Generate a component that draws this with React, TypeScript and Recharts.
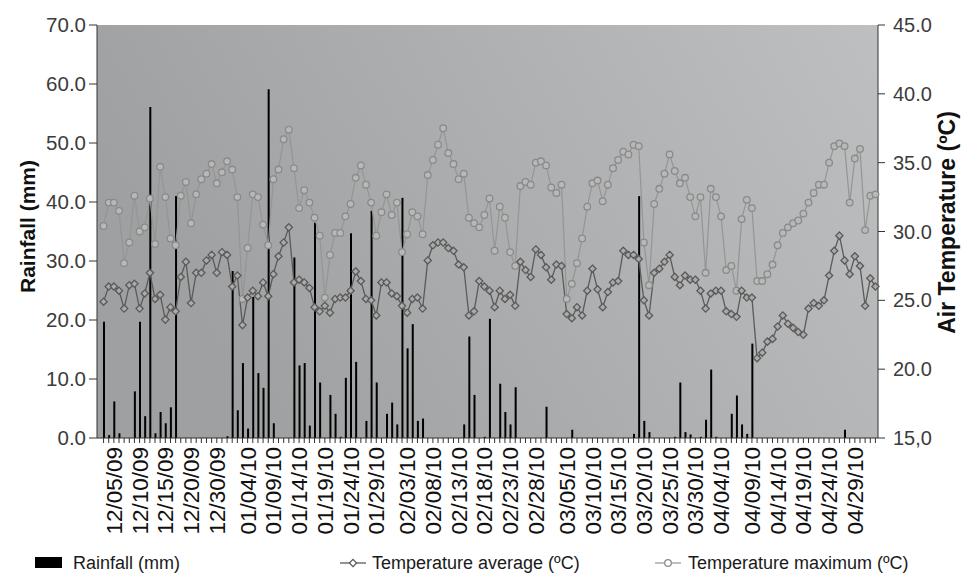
import React from "react";
import { ComposedChart, Bar, Line, XAxis, YAxis, CartesianGrid } from "recharts";

// daily values (151 days)
const rainfall = [
  19.7, 0.5, 6.2, 0.8, 0, 0, 7.9, 19.7, 3.7, 56.1, 0.8, 4.4, 2.5, 5.2, 41.0, 0, 0, 0, 0, 0,
  0, 0, 0, 0, 0.3, 28.3, 4.7, 12.7, 1.6, 23.9, 11.0, 8.5, 59.1, 2.5, 0, 0, 0, 30.6, 12.3, 12.7,
  2.1, 36.5, 9.4, 0, 7.3, 4.1, 0.2, 10.2, 34.7, 12.9, 0, 2.9, 38.5, 9.4, 0, 4.1, 6.0, 2.3, 40.7, 15.2,
  19.3, 2.9, 3.3, 0, 0, 0, 0, 0, 0, 0, 2.3, 17.2, 7.3, 0, 0.2, 20.2, 0, 9.2, 4.4, 2.3,
  8.6, 0, 0, 0, 0, 0, 5.3, 0, 0, 0, 0, 1.4, 0, 0, 0, 0, 0, 0, 0, 0,
  0, 0, 0, 0.7, 41.0, 2.9, 1.0, 0, 0, 0, 0, 0.2, 9.4, 1.0, 0.6, 0, 0.2, 3.1, 11.6, 0.2,
  0, 0, 4.1, 7.2, 2.3, 0.7, 16.0, 0, 0, 0, 0, 0, 0, 0, 0, 0, 0, 0, 0, 0,
  0, 0, 0, 0, 1.4, 0, 0, 0, 0, 0, 0,
];

const tempAvg = [
  24.9, 26.0, 26.0, 25.7, 24.4, 26.1, 26.2, 24.4, 25.5, 27.0, 25.1, 25.4, 23.6, 24.5, 24.2, 26.7, 27.8, 24.8, 27.0, 27.0,
  27.9, 28.3, 27.0, 28.5, 28.3, 26.0, 26.8, 23.2, 25.2, 25.7, 25.3, 26.3, 25.3, 26.9, 28.2, 29.2, 30.3, 26.3, 26.5, 26.3,
  25.9, 24.5, 24.2, 24.6, 24.1, 25.1, 25.2, 25.2, 25.7, 27.1, 26.4, 25.1, 25.0, 23.9, 26.3, 26.3, 25.5, 25.3, 24.6, 24.1,
  25.1, 25.2, 24.4, 27.9, 29.0, 29.2, 29.2, 28.8, 28.6, 27.6, 27.4, 23.9, 24.2, 26.4, 26.0, 25.7, 24.5, 25.7, 25.1, 25.4,
  24.6, 27.8, 27.2, 26.7, 28.7, 28.3, 27.4, 26.5, 27.6, 27.5, 24.0, 23.7, 24.5, 23.9, 25.7, 27.3, 25.8, 24.5, 25.6, 26.3,
  26.4, 28.6, 28.3, 28.3, 28.0, 25.0, 23.9, 27.0, 27.3, 27.8, 28.3, 26.7, 26.1, 26.8, 26.5, 26.5, 25.7, 24.4, 25.5, 25.7,
  25.7, 24.2, 24.0, 23.8, 25.7, 25.2, 25.2, 20.8, 21.2, 22.0, 22.2, 23.1, 23.9, 23.3, 23.0, 22.7, 22.5, 24.4, 24.8, 24.6,
  25.0, 26.8, 28.6, 29.7, 27.9, 26.9, 28.2, 27.5, 24.6, 26.6, 26.0,
];

const tempMax = [
  30.4, 32.1, 32.1, 31.5, 27.7, 29.2, 32.6, 30.0, 30.3, 32.4, 29.1, 34.7, 32.5, 29.5, 29.0, 32.6, 33.6, 30.6, 32.7, 33.8,
  34.2, 34.9, 33.5, 34.3, 35.1, 34.5, 32.5, 25.1, 28.8, 32.7, 32.5, 30.5, 29.0, 33.8, 34.5, 36.7, 37.4, 34.6, 31.7, 33.0,
  32.1, 31.0, 29.7, 25.2, 28.3, 29.9, 29.9, 31.1, 32.0, 33.9, 34.8, 33.4, 32.1, 29.7, 31.4, 32.7, 31.2, 32.1, 28.5, 29.8,
  31.4, 31.1, 29.8, 34.1, 35.2, 36.3, 37.5, 35.7, 34.9, 33.8, 34.2, 31.0, 30.6, 30.3, 31.2, 32.4, 28.6, 31.8, 31.0, 28.5,
  27.5, 33.3, 33.6, 33.4, 35.0, 35.1, 34.8, 33.2, 32.8, 33.4, 25.1, 26.2, 27.7, 29.5, 31.8, 33.5, 33.7, 32.2, 33.4, 34.6,
  35.2, 35.8, 35.6, 36.3, 36.2, 29.2, 26.1, 32.0, 33.1, 34.2, 35.6, 34.4, 33.5, 33.9, 32.5, 31.1, 32.5, 27.0, 33.1, 32.5,
  31.1, 27.2, 27.5, 25.7, 30.9, 32.3, 31.7, 26.4, 26.4, 26.9, 27.6, 29.0, 29.9, 30.3, 30.6, 30.8, 31.3, 32.1, 32.8, 33.4,
  33.4, 35.0, 36.2, 36.4, 36.2, 32.1, 35.3, 36.0, 30.1, 32.6, 32.7,
];

// date labels and the day (category index) each one sits under
const tickLabels = [
  "12/05/09", "12/10/09", "12/15/09", "12/20/09", "12/30/09", "01/04/10", "01/09/10", "01/14/10",
  "01/19/10", "01/24/10", "01/29/10", "02/03/10", "02/08/10", "02/13/10", "02/18/10", "02/23/10",
  "02/28/10", "03/05/10", "03/10/10", "03/15/10", "03/20/10", "03/25/10", "03/30/10", "04/04/10",
  "04/09/10", "04/14/10", "04/19/10", "04/24/10", "04/29/10",
];
const labelDays = [
  2, 7, 12, 17, 22, 28, 33, 38, 43, 48, 53, 59, 64, 69, 74, 79,
  84, 90, 95, 100, 105, 110, 115, 120, 126, 131, 136, 141, 146,
];

const rainTicks = [0, 10, 20, 30, 40, 50, 60, 70];
const tempTicks = [15, 20, 25, 30, 35, 40, 45];

const data = rainfall.map((r, i) => ({ day: i, rain: r, avg: tempAvg[i], max: tempMax[i] }));
const labelOf: Record<number, string> = {};
labelDays.forEach((d, i) => (labelOf[d] = tickLabels[i]));

const FONT = "'Liberation Sans', Arial, sans-serif";

const Diamond = (props: any) => {
  const { cx, cy, index } = props;
  if (cx == null || cy == null) return <g key={index} />;
  const s = 3.6;
  return (
    <path
      key={index}
      d={`M${cx},${cy - s}L${cx + s},${cy}L${cx},${cy + s}L${cx - s},${cy}Z`}
      fill="#ababab"
      stroke="#5a5a5a"
      strokeWidth={1.3}
    />
  );
};

const DateTick = (props: any) => {
  const { x, y, payload } = props;
  const text = labelOf[payload.value];
  if (!text) return <g />;
  return (
    <text
      x={x}
      y={y}
      transform={`rotate(-90 ${x} ${y})`}
      textAnchor="end"
      dy="0.36em"
      fontSize={22.5}
      fontFamily={FONT}
      fill="#111"
    >
      {text}
    </text>
  );
};

export default function App() {
  return (
    <div style={{ position: "relative", width: 962, height: 573, background: "#fff" }}>
      <style>{`body{margin:0}`}</style>
      <ComposedChart width={962} height={573} data={data} margin={{ top: 25, right: 34, bottom: 35, left: 37 }}>
        <defs>
          <linearGradient id="plotBg" x1="0" y1="0.3" x2="1" y2="0">
            <stop offset="0%" stopColor="#9fa0a1" />
            <stop offset="100%" stopColor="#bebfc0" />
          </linearGradient>
        </defs>
        <CartesianGrid fill="url(#plotBg)" horizontal={false} vertical={false} stroke="none" />
        <XAxis
          dataKey="day"
          type="category"
          interval={0}
          height={100}
          tickSize={5}
          tickMargin={4}
          padding={{ left: 4, right: 0 }}
          tick={<DateTick />}
          stroke="#333"
          tickLine={{ stroke: "#333" }}
        />
        <YAxis
          yAxisId="left"
          width={60}
          domain={[0, 70]}
          ticks={rainTicks}
          tickFormatter={(v) => v.toFixed(1)}
          tickSize={8}
          tickMargin={3}
          stroke="#333"
          tick={{ fontSize: 20.5, fill: "#3c3c3c", fontFamily: FONT }}
          label={{
            content: (p: any) => {
              const vb = p.viewBox;
              const cx = vb.x - 9;
              const cy = vb.y + vb.height / 2 - 5;
              return (
                <text x={cx} y={cy} transform={`rotate(-90 ${cx} ${cy})`} textAnchor="middle" dy="0.35em"
                  fontSize={21} fontWeight="bold" fontFamily={FONT} fill="#111">
                  Rainfall (mm)
                </text>
              );
            },
          }}
        />
        <YAxis
          yAxisId="right"
          orientation="right"
          width={50}
          domain={[15, 45]}
          ticks={tempTicks}
          tickFormatter={(v) => (v === 15 ? "15,0" : v.toFixed(1))}
          tickSize={7}
          tickMargin={8}
          stroke="#333"
          tick={{ fontSize: 20, fill: "#3c3c3c", fontFamily: FONT }}
          label={{
            content: (p: any) => {
              const vb = p.viewBox;
              const cx = vb.x + vb.width + 19;
              const cy = vb.y + vb.height / 2 - 9;
              return (
                <text x={cx} y={cy} transform={`rotate(-90 ${cx} ${cy})`} textAnchor="middle" dy="0.35em"
                  fontSize={23} fontWeight="bold" fontFamily={FONT} fill="#111">
                  Air Temperature (ºC)
                </text>
              );
            },
          }}
        />
        <Bar dataKey="rain" yAxisId="left" fill="#000" barSize={2} isAnimationActive={false} />
        <Line
          type="linear"
          dataKey="max"
          yAxisId="right"
          stroke="#959595"
          strokeWidth={1.2}
          dot={{ r: 3.3, stroke: "#8a8a8a", fill: "#b8b8b8", strokeWidth: 1.3 }}
          isAnimationActive={false}
        />
        <Line
          type="linear"
          dataKey="avg"
          yAxisId="right"
          stroke="#5a5a5a"
          strokeWidth={1.3}
          dot={<Diamond />}
          isAnimationActive={false}
        />
      </ComposedChart>

      <div style={{ position: "absolute", left: 0, top: 553, width: 962, height: 20, fontFamily: FONT, fontSize: 18, color: "#1a1a1a", lineHeight: "20px" }}>
        <div style={{ position: "absolute", left: 35, top: 4, width: 27, height: 11, background: "#000" }} />
        <span style={{ position: "absolute", left: 73, top: 0 }}>Rainfall (mm)</span>
        <svg style={{ position: "absolute", left: 338, top: 0 }} width={30} height={20}>
          <line x1={2} y1={10} x2={28} y2={10} stroke="#5a5a5a" strokeWidth={1.3} />
          <path d="M15,6.4L18.6,10L15,13.6L11.4,10Z" fill="#fff" stroke="#5a5a5a" strokeWidth={1.3} />
        </svg>
        <span style={{ position: "absolute", left: 372, top: 0 }}>Temperature average (ºC)</span>
        <svg style={{ position: "absolute", left: 653, top: 0 }} width={30} height={20}>
          <line x1={2} y1={10} x2={28} y2={10} stroke="#959595" strokeWidth={1.2} />
          <circle cx={15} cy={10} r={3.3} fill="#fff" stroke="#8a8a8a" strokeWidth={1.3} />
        </svg>
        <span style={{ position: "absolute", left: 688, top: 0 }}>Temperature maximum (ºC)</span>
      </div>
    </div>
  );
}
